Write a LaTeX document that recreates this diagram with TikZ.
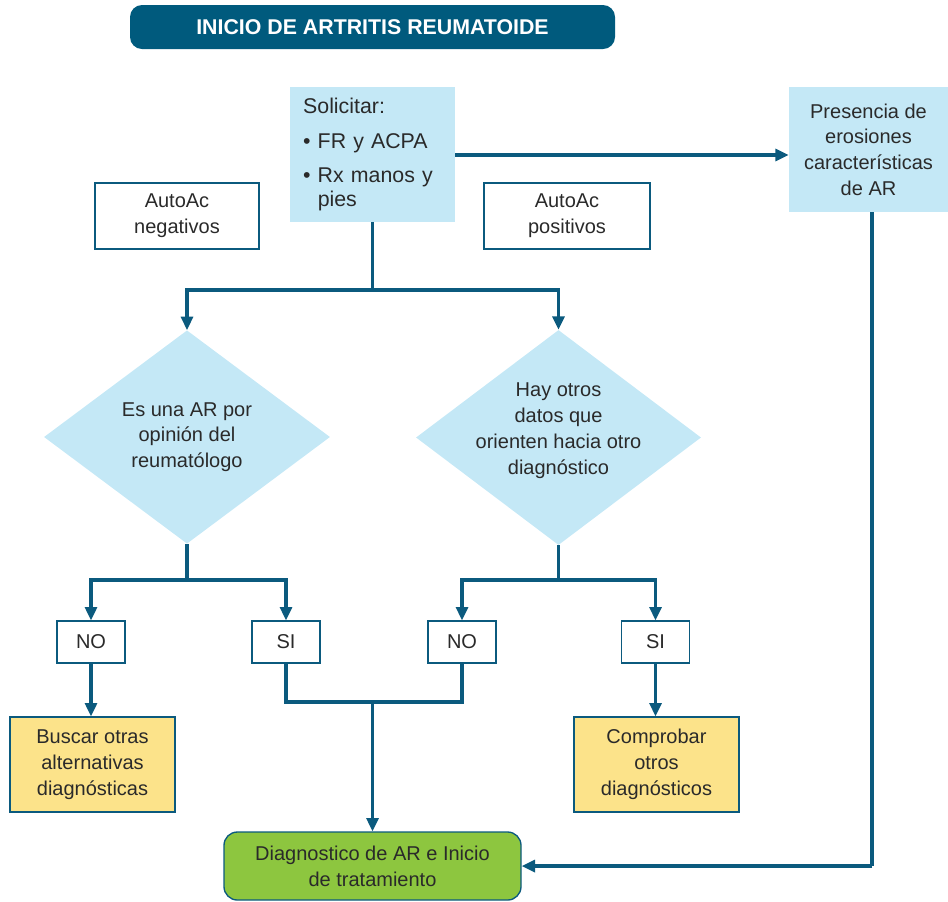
\documentclass[tikz,border=0pt]{standalone}
\usepackage{fontspec}
\setmainfont{Liberation Sans}
\usetikzlibrary{shapes.geometric,arrows.meta}
\definecolor{lineC}{HTML}{0B5A7E}
\definecolor{titleC}{HTML}{005A7D}
\definecolor{lightB}{HTML}{C4E8F6}
\definecolor{yelC}{HTML}{FCE38A}
\definecolor{greenC}{HTML}{8DC63F}
\definecolor{txtC}{HTML}{2A2A2A}
\begin{document}
\begin{tikzpicture}[x=0.75pt,y=-0.75pt,
  conn/.style={draw=lineC, line width=2.3pt},
  arr/.style={conn, -{Triangle[length=10pt,width=9pt]}},
  box/.style={rectangle, inner sep=0pt, align=center, text=txtC,
    font=\fontsize{15}{19.3}\selectfont},
  bluebox/.style={box, fill=lightB},
  wbox/.style={box, draw=lineC, line width=1pt, fill=white},
  ybox/.style={box, draw=lineC, line width=1pt, fill=yelC,
    minimum width=123.75pt, minimum height=71.25pt},
  ynbox/.style={wbox, minimum width=51pt, minimum height=31.5pt},
  dia/.style={diamond, fill=lightB, inner sep=-40pt, align=center, text=txtC,
    font=\fontsize{15}{19.3}\selectfont},
]
\useasboundingbox (0,0) rectangle (948,901);

\node[rectangle, rounded corners=9pt, fill=titleC, text=white,
  minimum width=363.75pt, minimum height=33pt, inner sep=0pt,
  font=\fontsize{16}{19}\selectfont\bfseries] (title) at (372.5,27) {INICIO DE ARTRITIS REUMATOIDE};

\node[bluebox, align=left, text width=104pt, inner xsep=10pt,
  minimum height=101.25pt, font=\fontsize{16}{18}\selectfont] (sol) at (372.5,154.5)
  {Solicitar:\\[8pt]\textbullet\ FR y ACPA\\[8pt]\textbullet\ Rx manos y\\\hphantom{\textbullet\ }pies};

\node[bluebox, minimum width=119.25pt, minimum height=93.75pt] (pres) at (868.5,149.5)
  {Presencia de\\erosiones\\características\\de AR};

\node[wbox, minimum width=123pt, minimum height=49.5pt] (neg) at (177,216) {AutoAc\\negativos};
\node[wbox, minimum width=124.5pt, minimum height=49.5pt] (pos) at (567,216) {AutoAc\\positivos};

\node[dia, minimum width=214.5pt, minimum height=160pt] (d1) at (187,437)
  {Es una AR por\\opinión del\\reumatólogo};
\node[dia, minimum width=213.75pt, minimum height=161.25pt] (d2) at (558.5,437.5)
  {Hay otros\\datos que\\orienten hacia otro\\diagnóstico\\[-6pt]~};

\node[ynbox] (no1) at (91,642) {NO};
\node[ynbox] (si1) at (286,642) {SI};
\node[ynbox] (no2) at (462,642) {NO};
\node[ynbox] (si2) at (655.5,642) {SI};

\node[ybox] (y1) at (92.5,764.5) {Buscar otras\\alternativas\\diagnósticas};
\node[ybox] (y2) at (656.5,764.5) {Comprobar\\otros\\diagnósticos};

\node[box, draw=lineC, line width=1pt, fill=greenC, rounded corners=10pt,
  minimum width=222.75pt, minimum height=51pt] (diag) at (372.5,866)
  {Diagnostico de AR e Inicio\\de tratamiento};

\coordinate (j1) at (372.5,290);
\coordinate (j2) at (187,580);
\coordinate (j3) at (558.5,580);
\coordinate (j4) at (372.5,702);
\coordinate (j5) at (872,866);

\draw[conn] (sol.south) -- (j1);
\draw[arr] (j1) -| (d1.north);
\draw[arr] (j1) -| (d2.north);
\draw[arr] (sol.east |- 0,155) -- (pres.west |- 0,155);

\draw[conn] (d1.south) -- (j2);
\draw[arr] (j2) -| (no1.north);
\draw[arr] (j2) -| (si1.north);
\draw[conn] (d2.south) -- (j3);
\draw[arr] (j3) -| (no2.north);
\draw[arr] (j3) -| (si2.north);

\draw[arr] (no1.south) -- (no1.south |- y1.north);
\draw[arr] (si2.south) -- (si2.south |- y2.north);

\draw[conn] (si1.south) |- (j4) -| (no2.south);
\draw[arr] (j4) -- (diag.north);

\draw[conn] (872,212) -- (j5);
\draw[arr] (j5) -- (diag.east);
\end{tikzpicture}
\end{document}
